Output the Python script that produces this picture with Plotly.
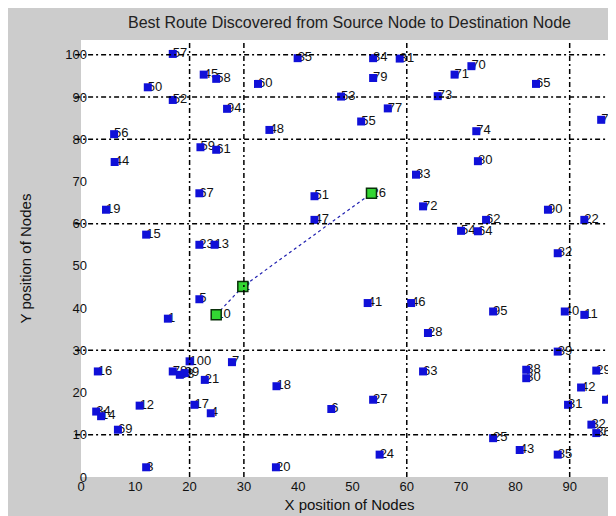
import plotly.graph_objects as go

# ---- data ----
node_labels = ["57", "50", "52", "45", "58", "60", "94", "48", "56", "44",
               "59", "61", "35", "84", "81", "79", "53", "77", "55", "70",
               "71", "73", "65", "74", "76", "80", "33", "26", "72", "90",
               "22", "62", "54", "64", "82", "51", "47", "19", "67", "15",
               "23", "13", "2", "10", "5", "1", "41", "46", "28", "95",
               "40", "11", "39", "16", "100", "7", "78", "88", "99", "21",
               "18", "12", "34", "14", "17", "4", "69", "6", "3", "20",
               "63", "27", "24", "38", "30", "25", "43", "85", "29", "42",
               "31", "37", "32", "36"]
node_x = [16.9, 12.3, 16.9, 22.6, 24.9, 32.6, 26.9, 34.7, 6.1, 6.2,
          22.0, 24.9, 39.9, 53.8, 58.7, 53.8, 47.9, 56.5, 51.6, 71.9,
          68.8, 65.7, 83.8, 72.8, 95.8, 73.1, 61.7, 53.5, 63.0, 86.0,
          92.7, 74.6, 70.0, 73.1, 87.8, 43.0, 43.0, 4.6, 21.8, 12.0,
          21.8, 24.6, 29.8, 24.9, 21.8, 16.0, 52.8, 60.8, 63.9, 75.9,
          89.1, 92.7, 87.8, 3.1, 20.0, 27.8, 16.9, 18.2, 19.1, 22.8,
          36.0, 10.8, 2.8, 3.7, 20.9, 23.9, 6.8, 46.1, 12.0, 35.9,
          63.0, 53.8, 55.0, 82.0, 82.0, 75.9, 80.8, 87.8, 94.9, 92.1,
          89.7, 96.7, 94.0, 94.9]
node_y = [100.2, 92.3, 89.3, 95.3, 94.3, 93.1, 87.2, 82.2, 81.2, 74.6,
          78.1, 77.5, 99.2, 99.2, 99.1, 94.5, 90.1, 87.3, 84.2, 97.3,
          95.3, 90.2, 93.1, 81.9, 84.6, 74.8, 71.6, 67.2, 64.1, 63.3,
          60.9, 60.9, 58.3, 58.2, 53.0, 66.5, 60.9, 63.3, 67.2, 57.4,
          55.0, 55.0, 45.1, 38.4, 42.1, 37.5, 41.2, 41.2, 34.1, 39.2,
          39.2, 38.4, 29.7, 25.0, 27.4, 27.2, 25.0, 24.2, 24.6, 23.0,
          21.5, 16.9, 15.5, 14.4, 17.1, 15.1, 11.2, 16.1, 2.3, 2.3,
          25.0, 18.3, 5.3, 25.4, 23.4, 9.2, 6.4, 5.3, 25.2, 21.2,
          17.1, 18.3, 12.4, 10.4]

route_labels = ["10", "2", "26"]          # source -> ... -> destination
grid_x = [20, 30, 60, 90]                  # vertical dash-dot lines
grid_y = [10, 30, 60, 80, 90, 100]         # horizontal dash-dot lines
x_ticks = [0, 10, 20, 30, 40, 50, 60, 70, 80, 90]
y_ticks = [0, 10, 20, 30, 40, 50, 60, 70, 80, 90, 100]

route_x = [node_x[node_labels.index(l)] for l in route_labels]
route_y = [node_y[node_labels.index(l)] for l in route_labels]

FONT = "Liberation Sans, Arial, sans-serif"

fig = go.Figure()

# node labels (drawn first, markers sit on top like in MATLAB)
fig.add_trace(go.Scatter(
    x=node_x, y=node_y, mode="text", text=node_labels,
    textposition="middle right",
    textfont=dict(family=FONT, size=13, color="#111111"),
    hoverinfo="skip", showlegend=False))

# route line
fig.add_trace(go.Scatter(
    x=route_x, y=route_y, mode="lines",
    line=dict(color="#2020b0", width=1.2, dash="3px,3px"),
    showlegend=False))

# all nodes
fig.add_trace(go.Scatter(
    x=node_x, y=node_y, mode="markers",
    marker=dict(symbol="square", size=8, color="#1010d8",
                line=dict(width=0)),
    showlegend=False))

# route nodes
fig.add_trace(go.Scatter(
    x=route_x, y=route_y, mode="markers",
    marker=dict(symbol="square", size=10, color="#33d633",
                line=dict(width=1.5, color="#0a300a")),
    showlegend=False))

shapes = []
for gx in grid_x:
    shapes.append(dict(type="line", xref="x", yref="paper", x0=gx, x1=gx,
                       y0=0, y1=1,
                       line=dict(color="black", width=1.5,
                                 dash="5px,3px,2px,3px")))
for gy in grid_y:
    shapes.append(dict(type="line", xref="paper", yref="y", x0=-0.011, x1=1,
                       y0=gy, y1=gy,
                       line=dict(color="black", width=1.5,
                                 dash="5px,3px,2px,3px")))

fig.update_layout(
    width=616, height=516,
    margin=dict(l=73, r=6, t=32, b=47),
    paper_bgcolor="#cccccc", plot_bgcolor="white",
    font=dict(family=FONT, color="#111111"),
    title=dict(text="Best Route Discovered from Source Node to Destination Node",
               x=0.5, xref="paper", y=1 - 14 / 516, yref="container",
               xanchor="center", yanchor="middle",
               font=dict(family=FONT, size=16, color="#222222")),
    shapes=shapes,
    showlegend=False,
)
fig.update_xaxes(range=[0, 98.9], tickvals=x_ticks, showgrid=False,
                 zeroline=False, showline=False, ticks="",
                 tickfont=dict(family=FONT, size=13, color="#111111"),
                 title=dict(text="X position of Nodes", standoff=6,
                            font=dict(family=FONT, size=15, color="#111111")))
fig.update_yaxes(range=[0, 103.5], tickvals=y_ticks, showgrid=False,
                 zeroline=False, showline=False, ticks="",
                 ticklabelstandoff=-7,
                 tickfont=dict(family=FONT, size=13, color="#111111"),
                 title=dict(text="Y position of Nodes", standoff=30,
                            font=dict(family=FONT, size=15, color="#111111")))

fig.write_html("out.html")
